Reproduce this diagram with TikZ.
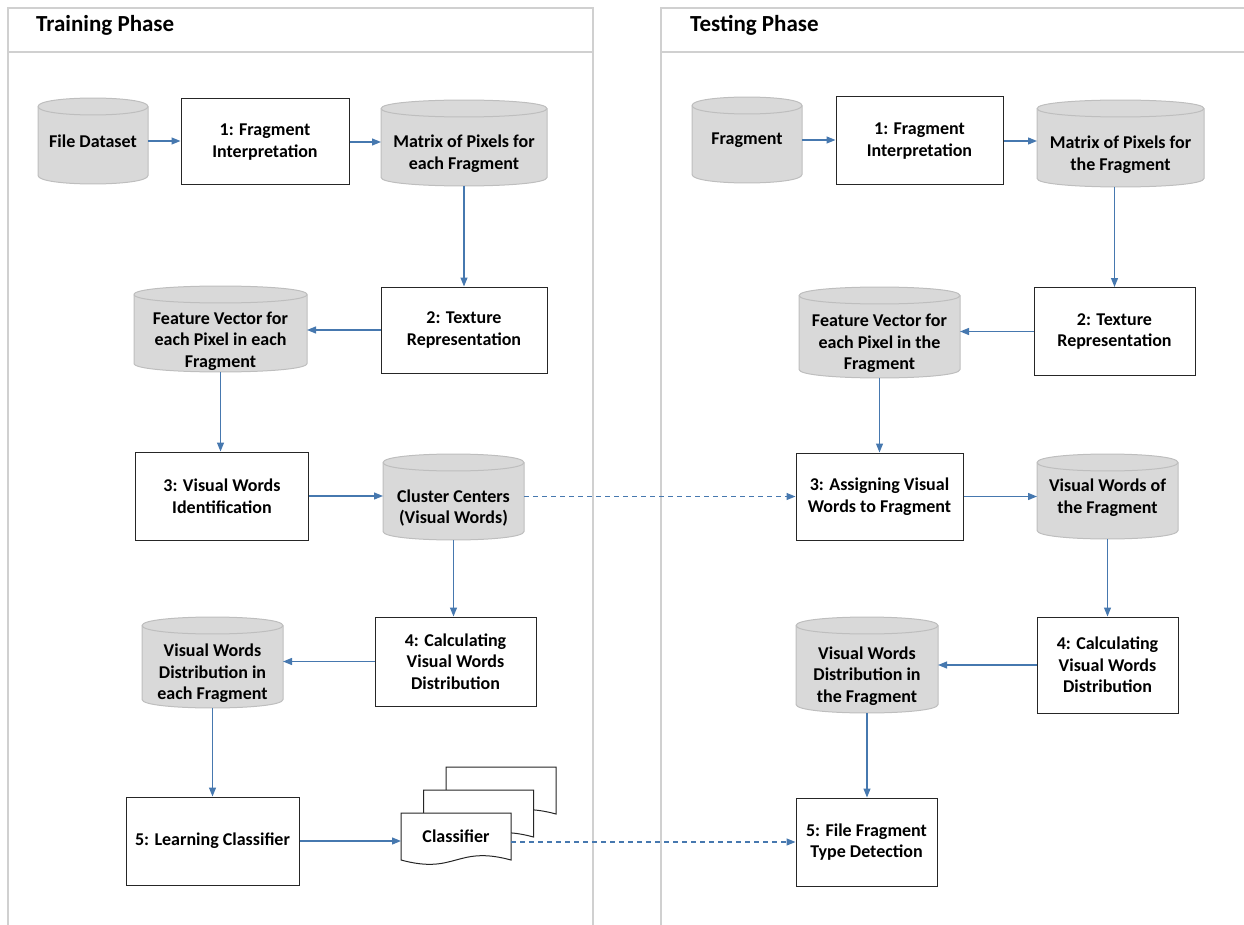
\documentclass[tikz,border=0pt]{standalone}
\usepackage{fontspec}
\setmainfont{Carlito}
\usetikzlibrary{arrows.meta,calc}
\definecolor{arrowblue}{RGB}{70,120,175}
\definecolor{cylfill}{RGB}{217,217,217}
\definecolor{cylborder}{RGB}{190,190,190}
\definecolor{laneline}{RGB}{208,208,208}
\tikzset{
  boxnode/.style={draw=black!85, line width=1pt, fill=white, align=center, inner sep=2pt,
    font=\fontsize{18}{21.7}\selectfont\bfseries},
  cylshape/.style={fill=cylfill, draw=cylborder, line width=1pt},
  cylline/.style={draw=cylborder, line width=1pt},
  cylbox/.style={inner sep=0pt, outer sep=0pt},
  cyltext/.style={align=center, inner sep=0pt, font=\fontsize{18}{21.7}\selectfont\bfseries},
  docstyle/.style={fill=white, draw=black!85, line width=1pt},
  docbox/.style={inner sep=0pt, outer sep=0pt, font=\fontsize{18}{21.7}\selectfont\bfseries},
  arr/.style={draw=arrowblue, line width=1.2pt, -{Triangle[length=9pt,width=7pt]}},
  dasharr/.style={arr, dash pattern=on 5pt off 4pt},
  lane/.style={draw=laneline, line width=1.5pt},
  lanetitle/.style={anchor=west, inner sep=0pt, font=\fontsize{23}{27}\selectfont\bfseries}
}
\newcommand\cylnode[7]{%
  \pgfmathsetmacro\cylcx{(#2+#4)/2}%
  \pgfmathsetmacro\cylcy{(#3+#5)/2}%
  \pgfmathsetmacro\cylw{#4-#2}%
  \pgfmathsetmacro\cylh{#5-#3}%
  \pgfmathsetmacro\cylyt{#3+8.5}%
  \pgfmathsetmacro\cylyb{#5-8.5}%
  \path[cylshape] (#2,\cylyt) -- (#2,\cylyb) .. controls (#2,\cylyb+11.3) and (#4,\cylyb+11.3) .. (#4,\cylyb) -- (#4,\cylyt) .. controls (#4,\cylyt-11.3) and (#2,\cylyt-11.3) .. (#2,\cylyt) -- cycle;
  \draw[cylline] (#2,\cylyt) .. controls (#2,\cylyt+11.3) and (#4,\cylyt+11.3) .. (#4,\cylyt);
  \node[cylbox, minimum width=\cylw pt, minimum height=\cylh pt] (#1) at (\cylcx,\cylcy) {};
  \node[cyltext] (#1t) at (\cylcx,\cylcy+#6) {#7};
}
\newcommand\docshape[2]{%
  \filldraw[docstyle] (#1,#2) -- (#1+110,#2) -- (#1+110,#2+47) .. controls (#1+55,#2+32) and (#1+55,#2+62) .. (#1,#2+47) -- cycle;
}
\begin{document}
\begin{tikzpicture}[x=1pt,y=-1pt]
\useasboundingbox (0,0) rectangle (1244,925);
% lanes
\draw[lane] (8,925) -- (8,8) -- (593,8) -- (593,925);
\draw[lane] (8,52) -- (593,52);
\draw[lane] (661,925) -- (661,8) -- (1250,8);
\draw[lane] (661,52) -- (1250,52);
\node[lanetitle] (ttrain) at (36,25) {Training Phase};
\node[lanetitle] (ttest) at (690,25) {Testing Phase};

% ---------- Training ----------
\cylnode{fd}{38}{98}{148}{184}{0}{File Dataset}
\node[boxnode, minimum width=168pt, minimum height=86pt] (fi1) at (265,142) {1: Fragment\\Interpretation};
\cylnode{mat}{381}{100}{547}{186}{11}{Matrix of Pixels for\\each Fragment}
\node[boxnode, minimum width=166pt, minimum height=86pt] (tr2) at (464,330) {2: Texture\\Representation};
\cylnode{fv}{134}{286}{307}{372}{12}{Feature Vector for\\each Pixel in each\\Fragment}
\node[boxnode, minimum width=173pt, minimum height=88pt] (vw3) at (222,496) {3: Visual Words\\Identification};
\cylnode{cc}{383}{454}{524}{540}{11}{Cluster Centers\\(Visual Words)}
\node[boxnode, minimum width=161pt, minimum height=89pt] (cvw4) at (455.5,661.5) {4: Calculating\\Visual Words\\Distribution};
\cylnode{vwd}{142}{617}{283}{708}{11}{Visual Words\\Distribution in\\each Fragment}
\node[boxnode, minimum width=173pt, minimum height=88pt] (lc) at (212.5,841) {5: Learning Classifier};
\docshape{446}{767}
\docshape{423.5}{790}
\docshape{401}{813}
\node[docbox, minimum width=110pt, minimum height=47pt] (clf) at (456,836.5) {Classifier};

% ---------- Testing ----------
\cylnode{frag}{692}{97}{802}{183}{0}{Fragment}
\node[boxnode, minimum width=167pt, minimum height=88pt] (tfi1) at (919.5,141) {1: Fragment\\Interpretation};
\cylnode{tmat}{1037}{100}{1204}{187}{11}{Matrix of Pixels for\\the Fragment}
\node[boxnode, minimum width=161pt, minimum height=88pt] (ttr2) at (1114.5,331.5) {2: Texture\\Representation};
\cylnode{tfv}{799}{287}{960}{378}{11}{Feature Vector for\\each Pixel in the\\Fragment}
\node[boxnode, minimum width=167pt, minimum height=87pt] (av3) at (879.5,496.5) {3: Assigning Visual\\Words to Fragment};
\cylnode{tvw}{1037}{454}{1178}{539}{1}{Visual Words of\\the Fragment}
\node[boxnode, minimum width=141pt, minimum height=96pt] (tcvw4) at (1107.5,665) {4: Calculating\\Visual Words\\Distribution};
\cylnode{tvwd}{796}{617}{938}{713}{11}{Visual Words\\Distribution in\\the Fragment}
\node[boxnode, minimum width=141pt, minimum height=88pt] (ffd) at (866.5,842) {5: File Fragment\\Type Detection};

% ---------- Connectors ----------
\draw[arr] (fd.east) -- (fd.east -| fi1.west);
\draw[arr] (fi1.east) -- (fi1.east -| mat.west);
\draw[arr] (mat.south -| tr2.north) -- (tr2.north);
\draw[arr] (tr2.west) -- (tr2.west -| fv.east);
\draw[arr] (fv.south) -- (fv.south |- vw3.north);
\draw[arr] (vw3.east) -- (vw3.east -| cc.west);
\draw[arr] (cc.south) -- (cc.south |- cvw4.north);
\draw[arr] (cvw4.west) -- (cvw4.west -| vwd.east);
\draw[arr] (vwd.south) -- (vwd.south |- lc.north);
\draw[arr] (lc.east) -- (lc.east -| clf.west);
\draw[dasharr] (cc.east |- av3.west) -- (av3.west);
\draw[dasharr] (clf.east |- ffd.west) -- (ffd.west);

\draw[arr] (frag.east) -- (frag.east -| tfi1.west);
\draw[arr] (tfi1.east) -- (tfi1.east -| tmat.west);
\draw[arr] (tmat.south -| ttr2.north) -- (ttr2.north);
\draw[arr] (ttr2.west) -- (ttr2.west -| tfv.east);
\draw[arr] (tfv.south) -- (tfv.south |- av3.north);
\draw[arr] (av3.east) -- (av3.east -| tvw.west);
\draw[arr] (tvw.south) -- (tvw.south |- tcvw4.north);
\draw[arr] (tcvw4.west) -- (tcvw4.west -| tvwd.east);
\draw[arr] (tvwd.south) -- (tvwd.south |- ffd.north);
\end{tikzpicture}
\end{document}
